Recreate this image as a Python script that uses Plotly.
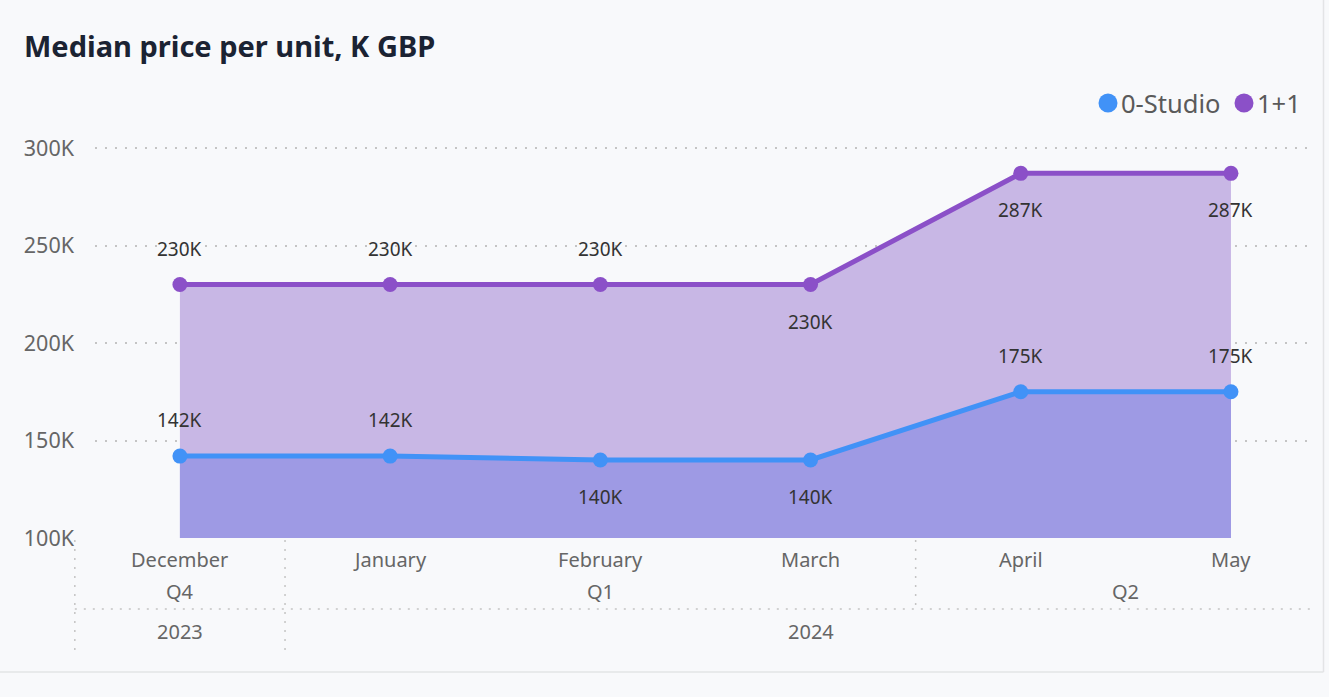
import plotly.graph_objects as go

# ---------------- data ----------------
months = ["December", "January", "February", "March", "April", "May"]
quarters = ["Q4", "Q1", "Q1", "Q1", "Q2", "Q2"]
years = ["2023", "2024", "2024", "2024", "2024", "2024"]
studio = [142000, 142000, 140000, 140000, 175000, 175000]
one_plus_one = [230000, 230000, 230000, 230000, 287000, 287000]
studio_label_pos = ["above", "above", "below", "below", "above", "above"]
opo_label_pos = ["above", "above", "above", "below", "below", "below"]
y_ticks = [100000, 150000, 200000, 250000, 300000]
y_tick_text = ["100K", "150K", "200K", "250K", "300K"]

# ---------------- style ----------------
W, H = 1329, 697
ML, MR, MT, MB = 95, 19, 130, 159
PW, PH = W - ML - MR, H - MT - MB
BG = "#f8f9fb"
BLUE = "#4192f7"
PURPLE = "#8b50c8"
FILL_PURPLE = "#c8b7e5"
FILL_BLUE = "#9e9ae4"
FONT = "Noto Sans"
GRID = "#c4c4c4"
XR = [-0.404, 5.376]
YR = [100000, 309230]

x = list(range(len(months)))


def pxx(px):
    """page pixel x -> paper fraction (relative to plot area)"""
    return (px - ML) / PW


def pxy(py):
    """page pixel y -> paper fraction (relative to plot area)"""
    return (H - MB - py) / PH


def data_x(v):
    """data x value -> paper fraction"""
    return (v - XR[0]) / (XR[1] - XR[0])


fig = go.Figure()

fig.add_trace(go.Scatter(
    x=x, y=one_plus_one, mode="lines+markers", fill="tozeroy",
    fillcolor=FILL_PURPLE, line=dict(color=PURPLE, width=5),
    marker=dict(size=15, color=PURPLE), showlegend=False, hoverinfo="skip"))
fig.add_trace(go.Scatter(
    x=x, y=studio, mode="lines+markers", fill="tozeroy",
    fillcolor=FILL_BLUE, line=dict(color=BLUE, width=5),
    marker=dict(size=15, color=BLUE), showlegend=False, hoverinfo="skip"))


def fmt(v):
    return f"{round(v/1000)}K"


annotations = []
for series, pos in ((one_plus_one, opo_label_pos), (studio, studio_label_pos)):
    for i, v in enumerate(series):
        annotations.append(dict(
            x=i, y=v, xref="x", yref="y", text=fmt(v), showarrow=False,
            xanchor="center", yanchor="middle",
            yshift=36 if pos[i] == "above" else -37,
            font=dict(family=FONT, size=19, color="#333333")))

# hierarchical x axis labels
LABEL_GREY = "#666666"


def add_label(xp, yp, text, size=20, color=LABEL_GREY, xanchor="center", bold=False):
    annotations.append(dict(x=xp, y=yp, xref="paper", yref="paper",
                            xanchor=xanchor, yanchor="middle",
                            text=f"<b>{text}</b>" if bold else text, showarrow=False,
                            font=dict(family=FONT, size=size, color=color)))


for i, m in enumerate(months):
    add_label(data_x(i), pxy(559), m)


def groups(labels, parent=None):
    out = []
    start = 0
    for i in range(1, len(labels) + 1):
        if (i == len(labels) or labels[i] != labels[start]
                or (parent is not None and parent[i] != parent[start])):
            out.append((labels[start], start, i - 1))
            start = i
    return out


q_groups = groups(quarters, years)
y_groups = groups(years)
for lab, a, b in q_groups:
    add_label(data_x((a + b) / 2), pxy(591), lab)
for lab, a, b in y_groups:
    add_label(data_x((a + b) / 2), pxy(631), lab)

# title
add_label(pxx(22), pxy(45), "Median price per unit, K GBP", size=29,
          color="#1b2333", xanchor="left", bold=True)

# legend (manual)
legend_items = [("0-Studio", BLUE, 1108), ("1+1", PURPLE, 1244)]
shapes = []
for name, col, cx in legend_items:
    shapes.append(dict(type="circle", xref="paper", yref="paper",
                       x0=pxx(cx - 9.5), x1=pxx(cx + 9.5),
                       y0=pxy(103 + 9.5), y1=pxy(103 - 9.5),
                       fillcolor=col, line=dict(width=0)))
    add_label(pxx(cx + 11), pxy(103), name, size=25.5, color="#5a5a5a", xanchor="left")

# separators for hierarchical axis
SEP = dict(color="#c4c4c4", width=1.5, dash="2px,7px")
bottom_px = 652
year_bounds = [y_groups[0][1] - 0.5] + [g[2] + 0.5 for g in y_groups[:-1]]
for b in year_bounds:
    shapes.append(dict(type="line", xref="paper", yref="paper",
                       x0=data_x(b), x1=data_x(b), y0=pxy(540), y1=pxy(bottom_px),
                       line=SEP))
quarter_bounds = [g[2] + 0.5 for g in q_groups[:-1]]
for b in quarter_bounds:
    if b not in year_bounds:
        shapes.append(dict(type="line", xref="paper", yref="paper",
                           x0=data_x(b), x1=data_x(b), y0=pxy(540), y1=pxy(606),
                           line=SEP))
shapes.append(dict(type="line", xref="paper", yref="paper",
                   x0=data_x(-0.5), x1=1, y0=pxy(609), y1=pxy(609),
                   line=SEP))

# card borders
shapes.append(dict(type="line", xref="paper", yref="paper",
                   x0=pxx(1323.5), x1=pxx(1323.5), y0=pxy(672), y1=pxy(0),
                   line=dict(color="#e3e4e6", width=1.5)))
shapes.append(dict(type="line", xref="paper", yref="paper",
                   x0=pxx(0), x1=pxx(1323.5), y0=pxy(672), y1=pxy(672),
                   line=dict(color="#e3e4e6", width=1.5)))

fig.update_layout(
    width=W, height=H,
    margin=dict(l=ML, r=MR, t=MT, b=MB, pad=0),
    paper_bgcolor=BG, plot_bgcolor=BG,
    showlegend=False,
    annotations=annotations, shapes=shapes,
    xaxis=dict(range=XR, showticklabels=False, showgrid=False, zeroline=False,
               showline=False, fixedrange=True),
    yaxis=dict(range=YR, tickvals=y_ticks, ticktext=y_tick_text,
               showgrid=True, gridcolor=GRID, gridwidth=1.5, griddash="2px,8px",
               zeroline=False, showline=False, ticklabelstandoff=20,
               tickfont=dict(family=FONT, size=21.5, color="#666666")),
)

fig.write_html("out.html", config={"displayModeBar": False},
               post_script="document.body.style.margin='0';document.body.style.background='#f8f9fb';")
